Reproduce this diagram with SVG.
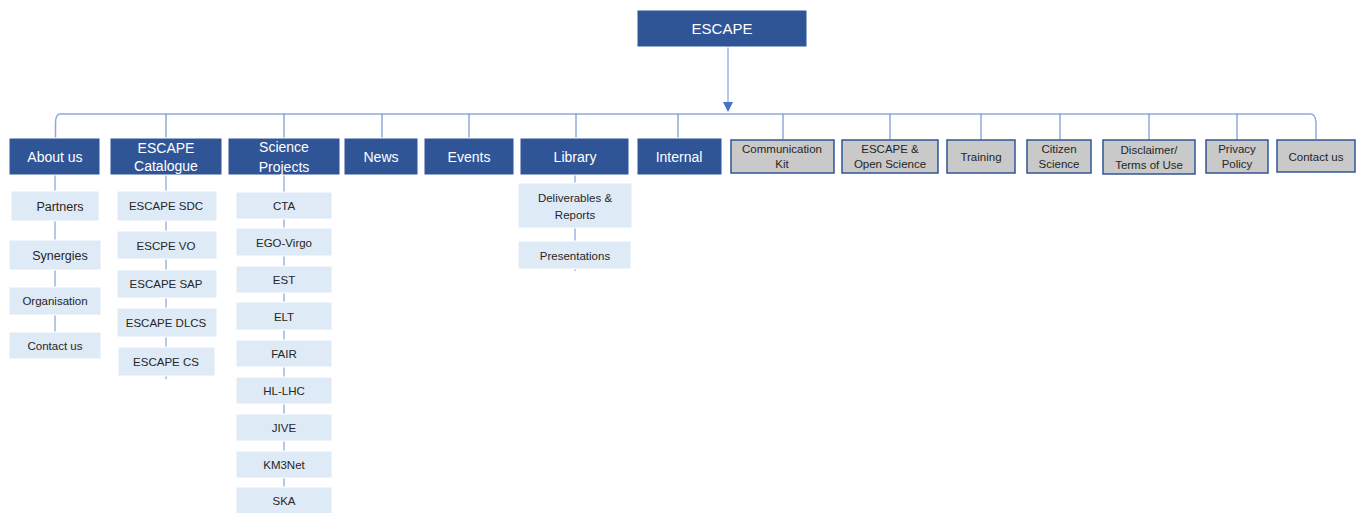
<svg xmlns="http://www.w3.org/2000/svg" width="1361" height="513" viewBox="0 0 1361 513">
<defs>
<style>
text{font-family:"Liberation Sans",Arial,sans-serif;text-anchor:middle;dominant-baseline:central}
.top{fill:#2f5597;stroke:#ffffff;stroke-width:1}
.topt{fill:#ffffff;font-size:14px}
.sub{fill:#deeaf6;stroke:#ffffff;stroke-width:1}
.subt{fill:#262626;font-size:11.5px}
.grey{fill:#c9c9c9;stroke:#2f5597;stroke-width:1.5}
.greyt{fill:#262626;font-size:11.5px}
.bus{fill:none;stroke:#8eaadb;stroke-width:1.5}
.drop{fill:none;stroke:#5b80c8;stroke-width:1}
.chain{fill:none;stroke:#9fb7e3;stroke-width:1.5}
</style>
<marker id="arr" viewBox="0 0 10 10" refX="9" refY="5" markerWidth="10" markerHeight="10" markerUnits="userSpaceOnUse" orient="auto">
<path d="M0,0 L10,5 L0,10 z" fill="#4472c4"/>
</marker>
</defs>
<rect width="1361" height="513" fill="#ffffff"/>
<g id="connectors">
<path class="chain" d="M728,47 V111" marker-end="url(#arr)"/>
<path class="bus" d="M60,114 H1311 Q1315,114 1316,122 V139"/>
<path class="bus" d="M60,114 Q56,114 55.5,122 V138"/>
<path class="drop" d="M166,114 V138 M284,114 V138 M382,114 V138 M469,114 V138 M576,114 V138 M678,114 V138 M783,114 V139 M890,114 V139 M981,114 V140 M1060,114 V140 M1149,114 V140 M1237,114 V140"/>
<path class="chain" d="M55,175 V191 M55,221 V240 M55,270 V287 M55,315 V332"/>
<path class="chain" d="M166,175 V191 M166,221 V231 M166,259 V270 M166,298 V308 M166,337 V347 M166,376 V379"/>
<path class="chain" d="M284,175 V192 M284,219 V228 M284,256 V266 M284,293 V302 M284,330 V340 M284,367 V377 M284,404 V414 M284,441 V451 M284,478 V487"/>
<path class="chain" d="M575,175 V183 M575,228 V241 M575,269 V271"/>
</g>
<g id="escape"><rect class="top" x="637" y="10" width="170" height="37"/><text class="topt" x="722" y="28.5" style="font-size:15px">ESCAPE</text></g>
<g id="about"><rect class="top" x="9" y="138" width="91" height="37"/><text class="topt" x="55" y="157">About us</text></g>
<g id="catalogue"><rect class="top" x="110" y="138" width="112" height="37"/><text class="topt" x="166" y="148">ESCAPE</text><text class="topt" x="166" y="166">Catalogue</text></g>
<g id="science"><rect class="top" x="228" y="138" width="112" height="37"/><text class="topt" x="284" y="147">Science</text><text class="topt" x="284" y="167">Projects</text></g>
<g id="news"><rect class="top" x="344" y="138" width="74" height="37"/><text class="topt" x="381" y="157">News</text></g>
<g id="events"><rect class="top" x="424" y="138" width="90" height="37"/><text class="topt" x="469" y="157">Events</text></g>
<g id="library"><rect class="top" x="520" y="138" width="109" height="37"/><text class="topt" x="575" y="157">Library</text></g>
<g id="internal"><rect class="top" x="637" y="138" width="85" height="37"/><text class="topt" x="679" y="157">Internal</text></g>
<g id="commkit"><rect class="grey" x="731" y="140" width="103" height="33"/><text class="greyt" x="782" y="149">Communication</text><text class="greyt" x="782" y="164">Kit</text></g>
<g id="openscience"><rect class="grey" x="842" y="140" width="96" height="33"/><text class="greyt" x="890" y="149">ESCAPE &amp;</text><text class="greyt" x="890" y="164">Open Science</text></g>
<g id="training"><rect class="grey" x="947" y="140" width="68" height="33"/><text class="greyt" x="981" y="156.5">Training</text></g>
<g id="citizen"><rect class="grey" x="1027" y="140" width="64" height="33"/><text class="greyt" x="1059" y="149">Citizen</text><text class="greyt" x="1059" y="164">Science</text></g>
<g id="disclaimer"><rect class="grey" x="1103" y="140" width="92" height="34"/><text class="greyt" x="1149" y="150">Disclaimer/</text><text class="greyt" x="1149" y="165">Terms of Use</text></g>
<g id="privacy"><rect class="grey" x="1206" y="140" width="62" height="33"/><text class="greyt" x="1237" y="149">Privacy</text><text class="greyt" x="1237" y="164">Policy</text></g>
<g id="contact-top"><rect class="grey" x="1277" y="140" width="78" height="32"/><text class="greyt" x="1316" y="157">Contact us</text></g>
<g id="partners"><rect class="sub" x="11" y="191" width="88" height="30"/><text class="subt" x="60" y="206.5" style="font-size:12.5px">Partners</text></g>
<g id="synergies"><rect class="sub" x="9" y="240" width="92" height="30"/><text class="subt" x="60" y="255.5" style="font-size:12.5px">Synergies</text></g>
<g id="organisation"><rect class="sub" x="9" y="287" width="92" height="28"/><text class="subt" x="55" y="301">Organisation</text></g>
<g id="contact-about"><rect class="sub" x="9" y="332" width="92" height="27"/><text class="subt" x="55" y="346">Contact us</text></g>
<g id="sdc"><rect class="sub" x="117" y="191" width="100" height="30"/><text class="subt" x="166" y="206">ESCAPE SDC</text></g>
<g id="vo"><rect class="sub" x="117" y="231" width="100" height="28"/><text class="subt" x="166" y="245.5">ESCPE VO</text></g>
<g id="sap"><rect class="sub" x="117" y="270" width="100" height="28"/><text class="subt" x="166" y="284">ESCAPE SAP</text></g>
<g id="dlcs"><rect class="sub" x="117" y="308" width="100" height="29"/><text class="subt" x="166" y="323">ESCAPE DLCS</text></g>
<g id="cs"><rect class="sub" x="118" y="347" width="97" height="29"/><text class="subt" x="166" y="362">ESCAPE CS</text></g>
<g id="cta"><rect class="sub" x="236" y="192" width="96" height="27"/><text class="subt" x="284" y="206">CTA</text></g>
<g id="ego"><rect class="sub" x="236" y="228" width="96" height="28"/><text class="subt" x="284" y="242.5">EGO-Virgo</text></g>
<g id="est"><rect class="sub" x="236" y="266" width="96" height="27"/><text class="subt" x="284" y="280">EST</text></g>
<g id="elt"><rect class="sub" x="236" y="302" width="96" height="28"/><text class="subt" x="284" y="316.5">ELT</text></g>
<g id="fair"><rect class="sub" x="236" y="340" width="96" height="27"/><text class="subt" x="284" y="354">FAIR</text></g>
<g id="hllhc"><rect class="sub" x="236" y="377" width="96" height="27"/><text class="subt" x="284" y="391">HL-LHC</text></g>
<g id="jive"><rect class="sub" x="236" y="414" width="96" height="27"/><text class="subt" x="284" y="428">JIVE</text></g>
<g id="km3net"><rect class="sub" x="236" y="451" width="96" height="27"/><text class="subt" x="284" y="465">KM3Net</text></g>
<g id="ska"><rect class="sub" x="236" y="487" width="96" height="27"/><text class="subt" x="284" y="501">SKA</text></g>
<g id="deliverables"><rect class="sub" x="518" y="183" width="114" height="45"/><text class="subt" x="575" y="198">Deliverables &amp;</text><text class="subt" x="575" y="215">Reports</text></g>
<g id="presentations"><rect class="sub" x="518" y="241" width="113" height="28"/><text class="subt" x="575" y="255.5">Presentations</text></g>
</svg>
